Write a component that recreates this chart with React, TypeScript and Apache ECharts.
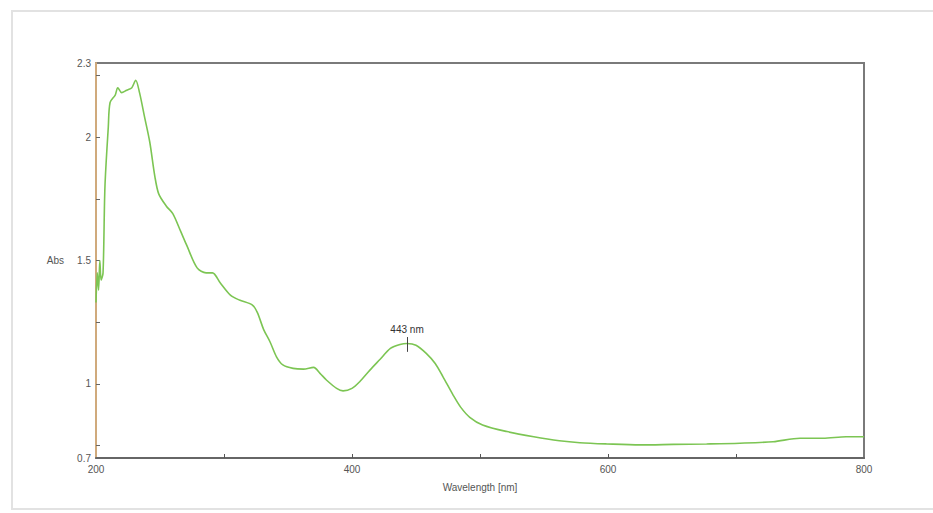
import React, { useEffect, useRef } from "react";
import * as echarts from "echarts";

const wavelengths = [
  200, 201, 202, 203, 204, 205.5, 207, 209.6, 211, 215, 217, 220, 224, 228, 231, 234, 238, 242, 246,
  249, 255, 260, 266, 271, 279, 286, 291, 297, 305, 312, 322, 326, 331, 336, 341, 346, 354, 362, 370,
  375, 380, 388, 393, 400, 406, 414, 422, 430, 437.5, 443, 450, 458, 465, 471, 479, 485, 492, 502, 521,
  542, 562, 578, 599, 625, 651, 677, 703, 729, 750, 768, 786, 800,
];
const absorbance = [
  1.33, 1.45, 1.38, 1.5, 1.42, 1.45, 1.8, 2.04, 2.14, 2.17, 2.2, 2.18, 2.19, 2.2, 2.23, 2.18, 2.08, 1.98,
  1.84, 1.77, 1.72, 1.69, 1.62, 1.56, 1.47, 1.45, 1.45, 1.41, 1.36, 1.34, 1.32, 1.29, 1.22, 1.17, 1.11,
  1.077, 1.063, 1.06, 1.067, 1.043, 1.016, 0.982, 0.972, 0.982, 1.009, 1.056, 1.1, 1.144, 1.16, 1.164,
  1.157, 1.124, 1.083, 1.03, 0.955, 0.905, 0.865, 0.834, 0.807, 0.786, 0.77, 0.762, 0.757, 0.753, 0.755,
  0.757, 0.76, 0.766, 0.78, 0.78, 0.786, 0.786,
];
const xLabelValues = [200, 400, 600, 800];
const xTickValues = [300, 400, 500, 600, 700];
const yLabelValues = [0.7, 1, 1.5, 2, 2.3];
const yTickValues = [0.75, 1, 1.25, 1.5, 1.75, 2, 2.25];
const peakWavelength = 443;
const peakMarkRange = [1.13, 1.19];
const peakLabel = "443 nm";

export default function App() {
  const ref = useRef<HTMLDivElement>(null);
  useEffect(() => {
    if (!ref.current) return;
    const chart = echarts.init(ref.current, null, { renderer: "svg" });
    const data = wavelengths.map((w, i) => [w, absorbance[i]]);
    chart.setOption({
      animation: false,
      backgroundColor: "#ffffff",
      graphic: [
        {
          type: "rect",
          shape: { x: 12, y: 11, width: 940, height: 498 },
          style: { fill: "none", stroke: "#e2e2e2", lineWidth: 2 },
          silent: true,
        },
      ],
      grid: {
        left: 96,
        top: 63,
        right: 69,
        bottom: 55,
        show: true,
        borderColor: "#7a7a7a",
        borderWidth: 2,
        backgroundColor: "transparent",
      },
      xAxis: {
        type: "value",
        min: 200,
        max: 800,
        name: "Wavelength [nm]",
        nameLocation: "middle",
        nameGap: 24,
        nameTextStyle: { color: "#555", fontSize: 10, fontFamily: "Liberation Sans" },
        axisLine: { show: true, lineStyle: { color: "#666", width: 2 } },
        axisTick: { show: true, inside: true, length: 4, customValues: xTickValues, lineStyle: { color: "#555" } },
        axisLabel: {
          customValues: xLabelValues,
          color: "#555",
          fontSize: 10,
          margin: 6,
          fontFamily: "Liberation Sans",
        },
        splitLine: { show: false },
      },
      yAxis: {
        type: "value",
        min: 0.7,
        max: 2.3,
        name: "Abs",
        nameLocation: "middle",
        nameRotate: 0,
        nameGap: 32,
        nameTextStyle: { color: "#555", fontSize: 10, fontFamily: "Liberation Sans", padding: [0, 0, 0, 0] },
        axisLine: { show: true, lineStyle: { color: "#d0aa7c", width: 2 } },
        axisTick: { show: true, inside: true, length: 4, customValues: yTickValues, lineStyle: { color: "#666" } },
        axisLabel: {
          customValues: yLabelValues,
          color: "#555",
          fontSize: 10,
          margin: 5,
          fontFamily: "Liberation Sans",
        },
        splitLine: { show: false },
      },
      series: [
        {
          type: "line",
          data,
          showSymbol: false,
          smooth: 0.3,
          lineStyle: { color: "#7cc553", width: 1.6 },
          markLine: {
            silent: true,
            symbol: "none",
            lineStyle: { color: "#444", width: 1, type: "solid" },
            label: {
              show: true,
              position: "end",
              formatter: peakLabel,
              color: "#333",
              fontSize: 10,
              fontFamily: "Liberation Sans",
              distance: 3,
            },
            data: [
              [
                { coord: [peakWavelength, peakMarkRange[0]] },
                { coord: [peakWavelength, peakMarkRange[1]] },
              ],
            ],
          },
        },
      ],
    });
    return () => chart.dispose();
  }, []);
  return (
    <div
      ref={ref}
      style={{ position: "absolute", left: 0, top: 0, width: 933, height: 513 }}
    />
  );
}
